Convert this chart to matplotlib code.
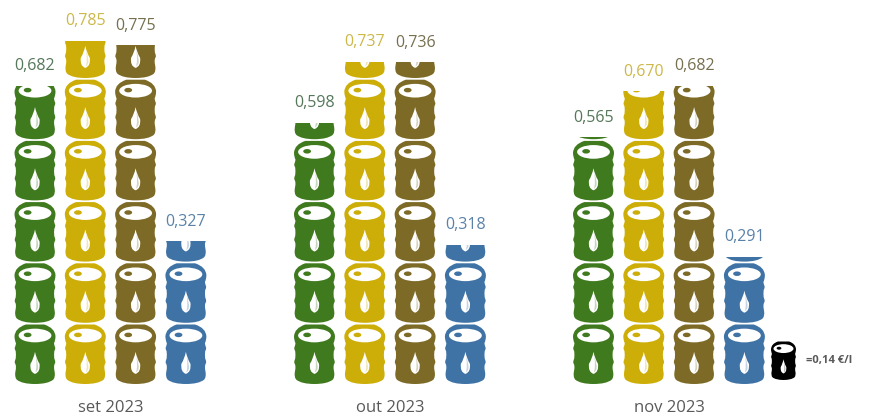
import matplotlib
matplotlib.use("Agg")
import matplotlib.pyplot as plt
from matplotlib.path import Path
from matplotlib.patches import PathPatch, Rectangle
from matplotlib.transforms import Affine2D

plt.rcParams['font.family'] = ['Open Sans', 'DejaVu Sans']

months = ["set 2023", "out 2023", "nov 2023"]
green = [0.682, 0.598, 0.565]
yellow = [0.785, 0.737, 0.670]
brown = [0.775, 0.736, 0.682]
blue = [0.327, 0.318, 0.291]
unit_value = 0.14
unit_label = "=0,14 €/l"

series = [green, yellow, brown, blue]
colors = ["#3F7A1E", "#CDAE08", "#7C6A26", "#3F73A6"]
text_colors = ["#55775A", "#CDB84A", "#76704F", "#5A82A8"]

PX_PER_UNIT = 61.2
BASE_PX = 384.0
v_per_px = unit_value / PX_PER_UNIT

fig = plt.figure(figsize=(8.77, 4.2), dpi=100)
ax = fig.add_axes([0, 0, 1, 1])
ax.set_xlim(0, 877)
ax.set_ylim((BASE_PX - 420) * v_per_px, BASE_PX * v_per_px)
ax.axis("off")

M, C, Z = Path.MOVETO, Path.CURVE3, Path.CLOSEPOLY


def outline_path():
    verts = [(0, 0), (-0.62, 0.0), (-0.88, 0.07),
             (-1.0, 0.11), (-0.96, 0.20),
             (-0.92, 0.26), (-0.93, 0.30),
             (-0.94, 0.33), (-0.99, 0.36),
             (-0.99, 0.39), (-0.94, 0.43),
             (-0.92, 0.49), (-0.94, 0.55),
             (-0.99, 0.58), (-0.99, 0.61),
             (-0.93, 0.65), (-0.93, 0.69),
             (-0.99, 0.72), (-1.0, 0.80),
             (-0.98, 0.94), (-0.45, 1.0),
             (0, 1.0)]
    codes = [M] + [C] * (len(verts) - 1)
    rv = [(-u, t) for u, t in reversed(verts[:-1])]
    return Path(verts + rv + [(0, 0)], codes + [C] * len(rv) + [Z])


def drop_path():
    v = [(0, 0.54), (-0.07, 0.42), (-0.22, 0.34), (-0.27, 0.20), (0, 0.17),
         (0.27, 0.20), (0.22, 0.34), (0.07, 0.42), (0, 0.54), (0, 0.54)]
    c = [M, C, C, C, C, C, C, C, C, Z]
    return Path(v, c)


def sliver_path():
    v = [(0.04, 0.46), (0.17, 0.34), (0.15, 0.26), (0.10, 0.20), (0.02, 0.20),
         (0.11, 0.28), (0.04, 0.46), (0.04, 0.46)]
    c = [M, C, C, C, C, C, C, Z]
    return Path(v, c)


def barrel(xc, y0, hw, h, color, clip_top=None):
    tr = Affine2D().scale(hw, h).translate(xc, y0) + ax.transData
    circle = Path.unit_circle()
    artists = [
        PathPatch(outline_path(), transform=tr, fc=color, ec="none"),
        PathPatch(circle, transform=Affine2D().scale(0.80, 0.115).translate(0, 0.815) + tr,
                  fc="white", ec="none"),
        PathPatch(circle, transform=Affine2D().scale(0.19, 0.038).translate(-0.36, 0.825) + tr,
                  fc=color, ec="none"),
        PathPatch(drop_path(), transform=tr, fc="white", ec="none"),
        PathPatch(sliver_path(), transform=tr, fc=color, ec="none", alpha=0.3),
    ]
    for a in artists:
        ax.add_patch(a)
        if clip_top is not None:
            a.set_clip_path(Rectangle((xc - 30, y0 - 0.01), 60, clip_top - y0 + 0.01,
                                      transform=ax.transData))


group_x = [35, 314.5, 593.5]
step_x = 50.3
label_offset = 19.5 * 72 / 100
barrel_h = 59.5 * v_per_px

for g, gx in enumerate(group_x):
    for s, vals in enumerate(series):
        v = vals[g]
        x = gx + s * step_x
        k = 0
        while k * unit_value < v:
            barrel(x, k * unit_value, 20.5, barrel_h, colors[s], clip_top=v)
            k += 1
        ax.annotate(f"{v:.3f}".replace(".", ","), (x, v), xytext=(0, label_offset),
                    textcoords="offset points", ha="center", va="center",
                    fontsize=11.5, color=text_colors[s])
    ax.text(gx + 1.5 * step_x, (BASE_PX - 408.5) * v_per_px, months[g], ha="center", va="center",
            fontsize=12, color="#595959")

# key
barrel(783.5, (BASE_PX - 380) * v_per_px, 12.5, 38.5 * v_per_px, "black")
ax.text(806, (BASE_PX - 361) * v_per_px, unit_label, ha="left", va="center",
        fontsize=8, fontweight="bold", color="#595959")

fig.savefig("out.png", dpi=100)
